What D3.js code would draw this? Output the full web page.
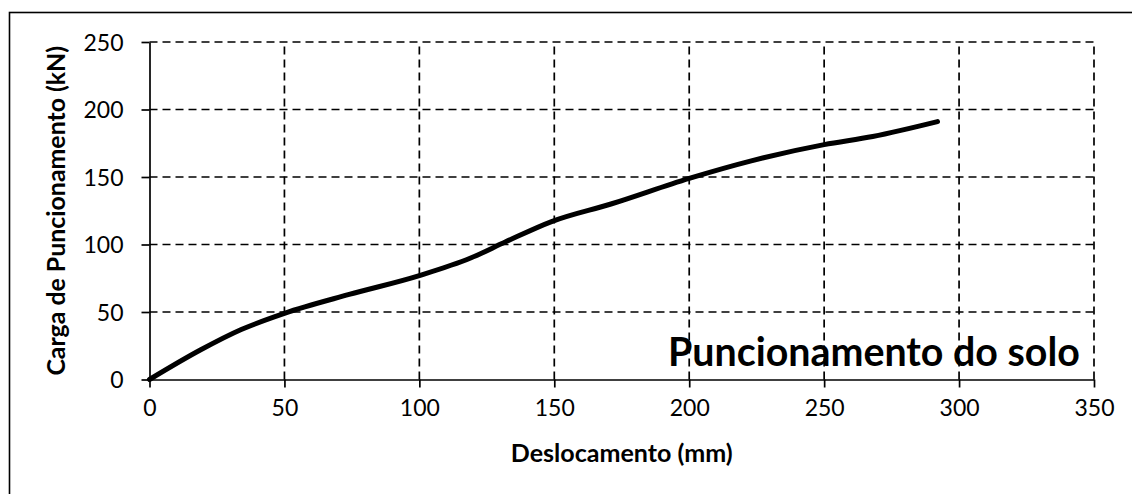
<!DOCTYPE html>
<html><head><meta charset="utf-8">
<script src="https://cdn.jsdelivr.net/npm/d3@7"></script>
<style>body{margin:0;background:#fff;} svg{display:block;}</style>
</head><body>
<svg id="c" width="1132" height="494"></svg>
<script>
const dispX = [0, 19, 34, 50, 74, 100, 119, 132, 149, 171, 200, 223, 250, 268, 292];
const loadY = [0, 22, 37, 49, 63, 77, 90, 102, 117, 130, 149, 162, 174, 180, 191];
const xTicks = [0, 50, 100, 150, 200, 250, 300, 350];
const yTicks = [0, 50, 100, 150, 200, 250];
const xTitle = "Deslocamento (mm)";
const yTitle = "Carga de Puncionamento (kN)";
const annotation = "Puncionamento do solo";

const svg = d3.select("#c");
const font = "Lato, 'Open Sans', sans-serif";
const L = 149.5, R = 1094, T = 42, B = 379.5;
const x = d3.scaleLinear().domain([0, 350]).range([L, R]);
const y = d3.scaleLinear().domain([0, 250]).range([B, T]);

// outer border
svg.append("rect").attr("x", 9.5).attr("y", 12.5).attr("width", 1140).attr("height", 500)
  .attr("fill", "none").attr("stroke", "#000").attr("stroke-width", 1.6);

// grid
const g = svg.append("g").attr("stroke", "#000").attr("stroke-width", 1.7).attr("stroke-dasharray", "8,5");
g.selectAll("line.h").data(yTicks.filter(d => d > 0)).join("line")
  .attr("x1", L).attr("x2", R).attr("y1", d => y(d)).attr("y2", d => y(d));
g.selectAll("line.v").data(xTicks.filter(d => d > 0)).join("line")
  .attr("y1", B).attr("y2", T).attr("x1", d => x(d)).attr("x2", d => x(d));

// axes
const xa = svg.append("g").attr("transform", `translate(0,${B})`)
  .call(d3.axisBottom(x).tickValues(xTicks).tickSize(8).tickSizeOuter(0).tickPadding(12));
const ya = svg.append("g").attr("transform", `translate(${L},0)`)
  .call(d3.axisLeft(y).tickValues(yTicks).tickSize(8).tickSizeOuter(0).tickPadding(18));
[xa, ya].forEach(a => {
  a.select(".domain").attr("stroke", "#000").attr("stroke-width", 1.7);
  a.selectAll(".tick line").attr("stroke", "#000").attr("stroke-width", 1.7);
  a.selectAll(".tick text").attr("font-family", font).attr("font-size", 23).attr("fill", "#000");
});
ya.selectAll(".tick text").attr("dy", "0.36em");

// line
const line = d3.line().x((d, i) => x(dispX[i])).y((d, i) => y(loadY[i])).curve(d3.curveMonotoneX);
svg.append("path").datum(dispX).attr("d", line).attr("fill", "none")
  .attr("stroke", "#000").attr("stroke-width", 5).attr("stroke-linecap", "round").attr("stroke-linejoin", "round");

function fit(sel, w, base) {
  sel.attr("font-size", base);
  const len = sel.node().getComputedTextLength();
  sel.attr("font-size", base * w / len);
}

const xt = svg.append("text").attr("x", (L + R) / 2).attr("y", 462).attr("text-anchor", "middle")
  .attr("font-family", font).attr("font-weight", "bold").text(xTitle);
fit(xt, 222, 18);
const yt = svg.append("text").attr("transform", `translate(65,${(T + B) / 2}) rotate(-90)`).attr("text-anchor", "middle")
  .attr("font-family", font).attr("font-weight", "bold").text(yTitle);
fit(yt, 330, 18);
const an = svg.append("text").attr("x", 668).attr("y", 366)
  .attr("font-family", font).attr("font-weight", "bold").text(annotation);
fit(an, 412, 28);
</script>
</body></html>
